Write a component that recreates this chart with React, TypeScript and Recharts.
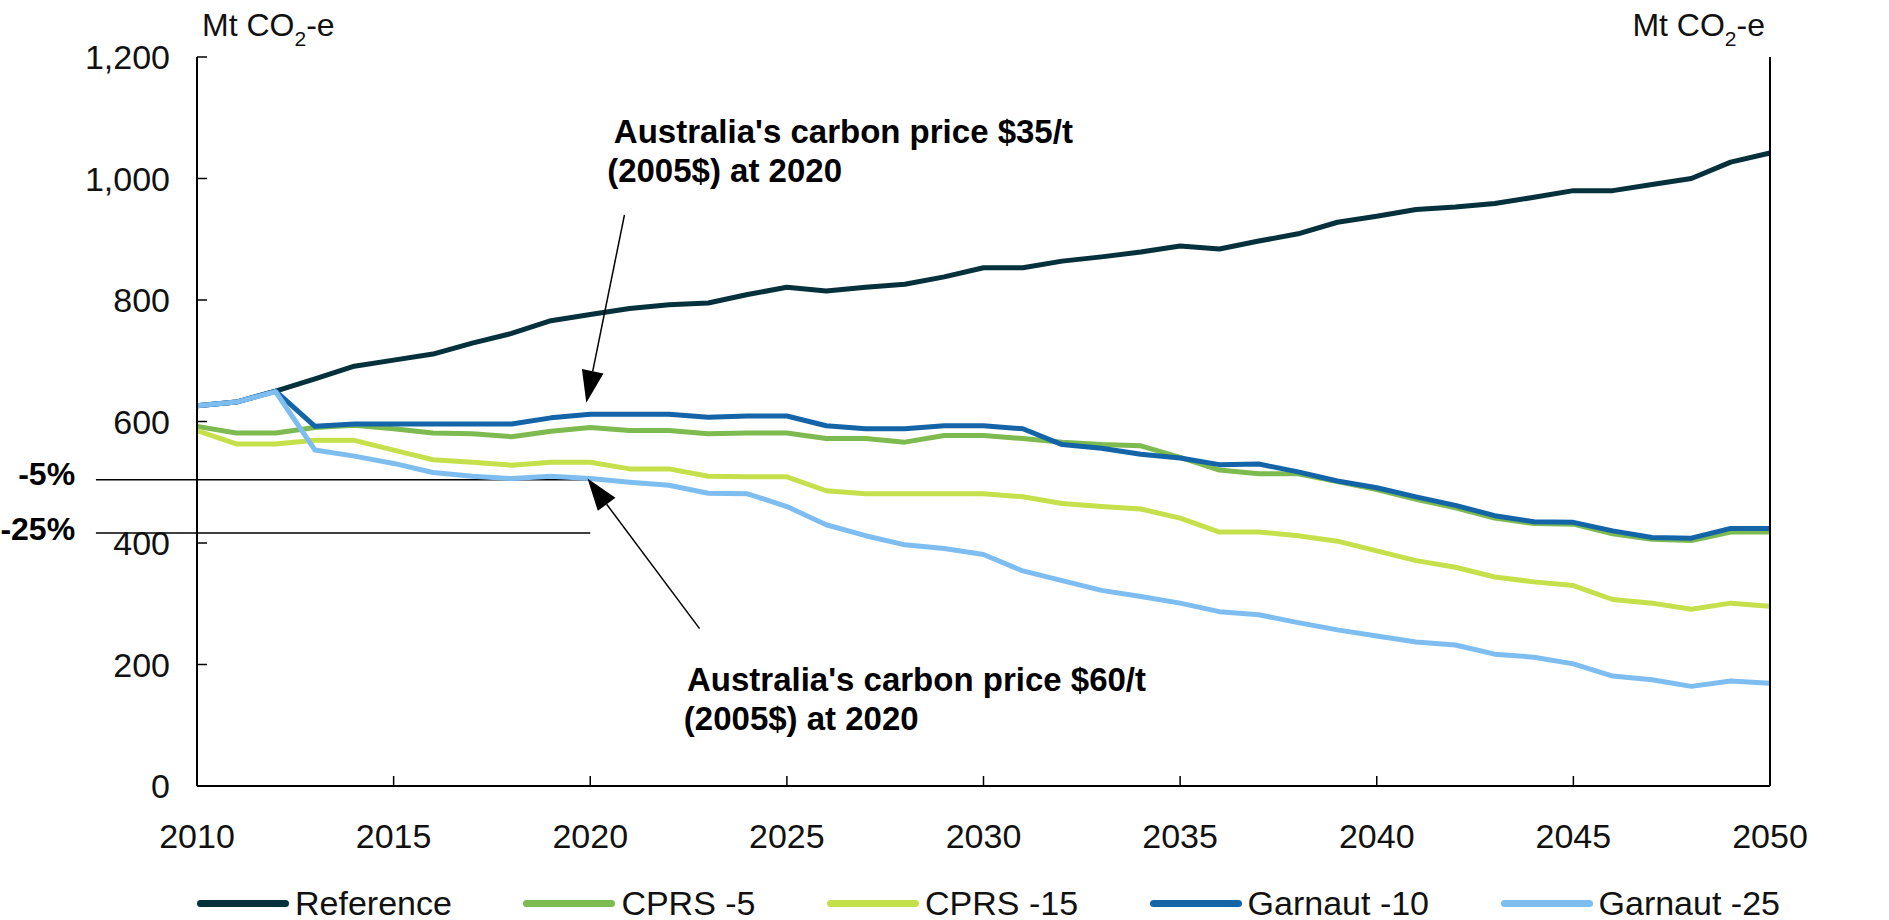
import { LineChart, Line, XAxis, YAxis, ReferenceLine, ReferenceDot, Legend } from 'recharts';

const FONT = '"Liberation Sans", Arial, sans-serif';

const years = [
  2010, 2011, 2012, 2013, 2014, 2015, 2016, 2017, 2018, 2019,
  2020, 2021, 2022, 2023, 2024, 2025, 2026, 2027, 2028, 2029,
  2030, 2031, 2032, 2033, 2034, 2035, 2036, 2037, 2038, 2039,
  2040, 2041, 2042, 2043, 2044, 2045, 2046, 2047, 2048, 2049, 2050,
];

const reference = [
  626, 632, 650, 670, 691, 701, 711, 729, 745, 766,
  776, 786, 792, 795, 809, 821, 815, 821, 826, 838,
  853, 853, 864, 871, 879, 889, 884, 897, 909, 928,
  938, 949, 953, 959, 969, 980, 980, 990, 1000, 1027, 1042,
];

const cprs5 = [
  592, 581, 581, 590, 594, 588, 581, 580, 575, 584,
  590, 585, 585, 580, 581, 581, 572, 572, 566, 577,
  577, 572, 566, 562, 560, 541, 520, 514, 514, 501,
  488, 472, 458, 441, 432, 431, 415, 406, 404, 418, 418,
];

const cprs15 = [
  585, 563, 563, 569, 569, 553, 537, 533, 528, 533,
  533, 522, 522, 510, 509, 509, 486, 481, 481, 481,
  481, 476, 465, 460, 456, 441, 418, 418, 412, 403,
  387, 371, 360, 344, 336, 330, 307, 301, 291, 301, 296,
];

const garnaut10 = [
  626, 632, 650, 592, 596, 596, 596, 596, 596, 606,
  612, 612, 612, 607, 609, 609, 593, 588, 588, 593,
  593, 588, 562, 556, 546, 540, 529, 530, 517, 502,
  491, 476, 462, 445, 435, 434, 420, 409, 408, 424, 424,
];

const garnaut25 = [
  626, 632, 649, 553, 543, 531, 516, 510, 506, 510,
  506, 500, 495, 482, 481, 460, 430, 412, 397, 391,
  381, 354, 338, 322, 312, 301, 287, 282, 269, 257,
  247, 237, 232, 217, 212, 201, 181, 175, 164, 173, 169,
];

const xTicks = [2010, 2015, 2020, 2025, 2030, 2035, 2040, 2045, 2050];
const yTicks = [0, 200, 400, 600, 800, 1000, 1200];

const SERIES = [
  { key: 'reference', name: 'Reference', color: '#04313b', values: reference },
  { key: 'cprs5', name: 'CPRS -5', color: '#7dba4f', values: cprs5 },
  { key: 'cprs15', name: 'CPRS -15', color: '#c5e04b', values: cprs15 },
  { key: 'garnaut10', name: 'Garnaut -10', color: '#1464a8', values: garnaut10 },
  { key: 'garnaut25', name: 'Garnaut -25', color: '#7ebdf0', values: garnaut25 },
];

// annotation anchors, in data units
const targetLines = [
  { label: '-5%', value: 504, labelY: 495 },
  { label: '-25%', value: 416.5, labelY: 405 },
];
const arrows = [
  { from: { x: 2020.87, y: 940 }, to: { x: 2019.9, y: 631 } },
  { from: { x: 2022.78, y: 259 }, to: { x: 2019.93, y: 506 } },
];
const notes = [
  { x: 2020.6, y: 1058, text: "Australia's carbon price $35/t" },
  { x: 2020.43, y: 994, text: '(2005$) at 2020' },
  { x: 2022.46, y: 156, text: "Australia's carbon price $60/t" },
  { x: 2022.38, y: 92, text: '(2005$) at 2020' },
];

const data = years.map((year, i) => {
  const row: Record<string, number> = { year };
  SERIES.forEach((s) => {
    row[s.key] = s.values[i];
  });
  return row;
});

const fmt = (v: number) => v.toLocaleString('en-US');

const tickStyle = { fontSize: 34, fill: '#111', fontFamily: FONT };

function Arrow(p: any) {
  const { x1, y1, x2, y2 } = p;
  const dx = x2 - x1;
  const dy = y2 - y1;
  const len = Math.hypot(dx, dy) || 1;
  const ux = dx / len;
  const uy = dy / len;
  const headLen = 32;
  const half = 11;
  const bx = x2 - ux * headLen;
  const by = y2 - uy * headLen;
  return (
    <g>
      <line x1={x1} y1={y1} x2={bx} y2={by} stroke="#000" strokeWidth={1.5} />
      <polygon
        points={`${x2},${y2} ${bx - uy * half},${by + ux * half} ${bx + uy * half},${by - ux * half}`}
        fill="#000"
      />
    </g>
  );
}

function unitTitle(side: 'left' | 'right') {
  return (props: any) => {
    const vb = props.viewBox;
    const x = side === 'left' ? vb.x + vb.width + 5 : vb.x - 5;
    return (
      <text
        x={x}
        y={vb.y - 21}
        textAnchor={side === 'left' ? 'start' : 'end'}
        fontSize={32}
        fontFamily={FONT}
        fill="#111"
      >
        Mt CO
        <tspan fontSize={21} dy={10}>2</tspan>
        <tspan dy={-10}>-e</tspan>
      </text>
    );
  };
}

function renderLegend() {
  return (
    <div
      style={{
        display: 'flex',
        justifyContent: 'space-between',
        alignItems: 'center',
        width: '100%',
        height: '100%',
        fontFamily: FONT,
        fontSize: 34,
        color: '#111',
      }}
    >
      {SERIES.map((s) => (
        <div key={s.key} style={{ display: 'flex', alignItems: 'center' }}>
          <span
            style={{
              display: 'inline-block',
              width: 92,
              height: 7,
              borderRadius: 4,
              background: s.color,
              marginRight: 6,
            }}
          />
          <span>{s.name}</span>
        </div>
      ))}
    </div>
  );
}

export default function App() {
  return (
    <div style={{ position: 'absolute', left: 0, top: 0, width: 1889, height: 920, background: '#fff' }}>
      <LineChart width={1889} height={920} data={data} margin={{ top: 57, right: 0, bottom: 0, left: 0 }}>
        <XAxis
          dataKey="year"
          type="number"
          domain={[2010, 2050]}
          ticks={xTicks}
          height={134}
          tick={tickStyle}
          tickSize={-10}
          tickMargin={48}
          axisLine={{ stroke: '#000', strokeWidth: 2 }}
          tickLine={{ stroke: '#000', strokeWidth: 1.5 }}
        />
        <YAxis
          yAxisId="left"
          orientation="left"
          domain={[0, 1200]}
          ticks={yTicks}
          width={197}
          tick={tickStyle}
          tickFormatter={fmt}
          tickSize={-10}
          tickMargin={37}
          axisLine={{ stroke: '#000', strokeWidth: 2 }}
          tickLine={{ stroke: '#000', strokeWidth: 1.5 }}
          label={unitTitle('left')}
        />
        <YAxis
          yAxisId="right"
          orientation="right"
          domain={[0, 1200]}
          ticks={yTicks}
          width={119}
          tick={{ ...tickStyle, textAnchor: 'start' }}
          tickFormatter={fmt}
          tickSize={-10}
          tickMargin={42}
          axisLine={{ stroke: '#000', strokeWidth: 2 }}
          tickLine={{ stroke: '#000', strokeWidth: 1.5 }}
          label={unitTitle('right')}
        />

        {targetLines.map((t) => (
          <ReferenceLine
            key={t.label}
            yAxisId="left"
            segment={[
              { x: 2007.43, y: t.value },
              { x: 2020, y: t.value },
            ]}
            stroke="#000"
            strokeWidth={1.5}
            ifOverflow="visible"
          />
        ))}

        {SERIES.map((s) => (
          <Line
            key={s.key}
            yAxisId="left"
            type="linear"
            dataKey={s.key}
            name={s.name}
            stroke={s.color}
            strokeWidth={5}
            strokeLinejoin="round"
            dot={false}
            activeDot={false}
            isAnimationActive={false}
          />
        ))}

        {arrows.map((a, i) => (
          <ReferenceLine
            key={`arrow-${i}`}
            yAxisId="left"
            segment={[a.from, a.to]}
            ifOverflow="visible"
            shape={Arrow}
          />
        ))}

        {targetLines.map((t) => (
          <ReferenceDot
            key={`lbl-${t.label}`}
            yAxisId="left"
            x={2006.9}
            y={t.labelY}
            r={0}
            ifOverflow="visible"
            shape={(p: any) => (
              <text x={p.cx} y={p.cy} textAnchor="end" fontSize={32} fontWeight="bold" fontFamily={FONT} fill="#000">
                {t.label}
              </text>
            )}
          />
        ))}

        {notes.map((n, i) => (
          <ReferenceDot
            key={`note-${i}`}
            yAxisId="left"
            x={n.x}
            y={n.y}
            r={0}
            ifOverflow="visible"
            shape={(p: any) => (
              <text x={p.cx} y={p.cy} fontSize={33} fontWeight="bold" fontFamily={FONT} fill="#000">
                {n.text}
              </text>
            )}
          />
        ))}

        <Legend
          layout="horizontal"
          verticalAlign="middle"
          align="center"
          wrapperStyle={{ top: 880, left: 197, width: 1583, height: 46 }}
          content={renderLegend}
        />
      </LineChart>
    </div>
  );
}
